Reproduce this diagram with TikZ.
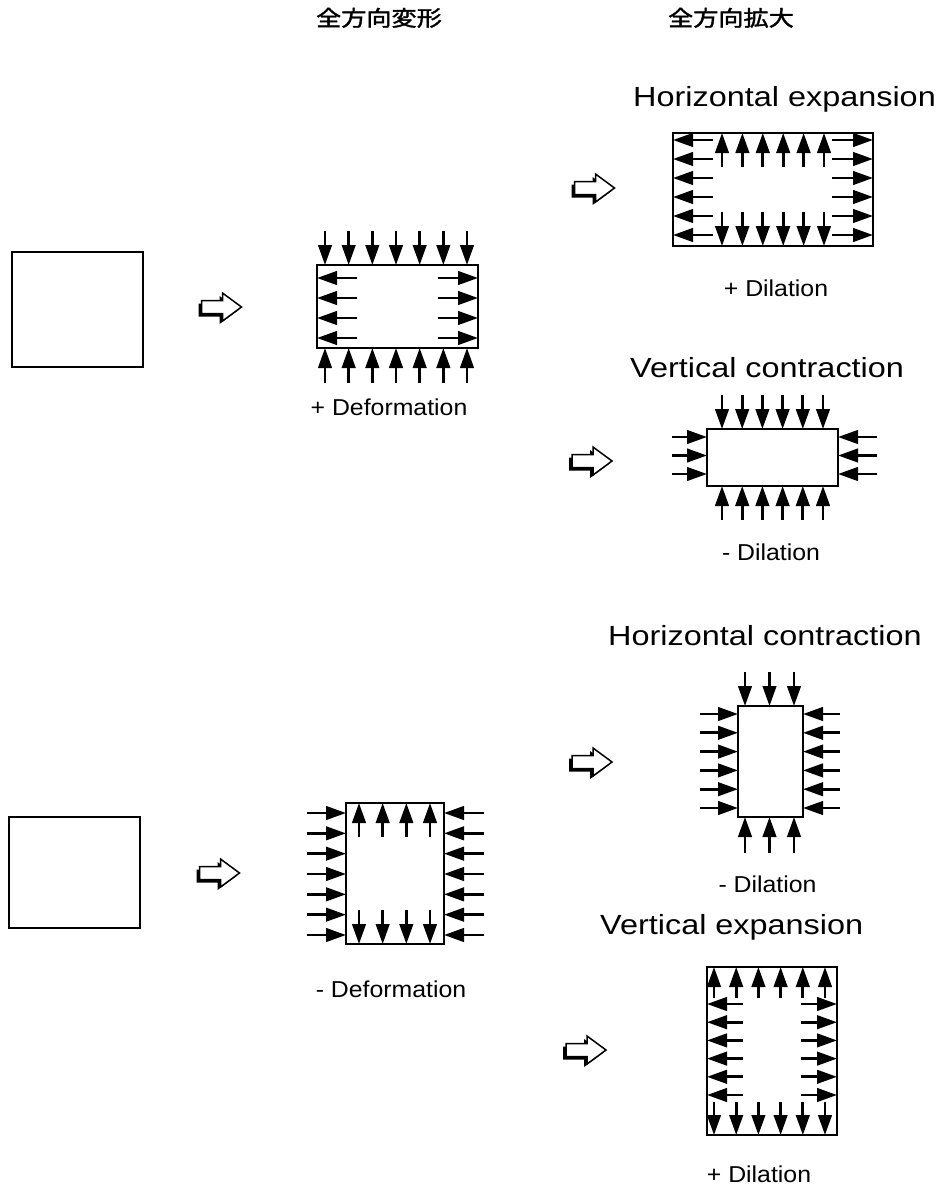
\documentclass[tikz,border=0pt]{standalone}
\usepackage{fontspec}
\usepackage{graphicx}
\setmainfont{Liberation Sans}
\newfontfamily\jpfont{Noto Sans CJK JP}[FakeBold=1.6]
\usetikzlibrary{arrows.meta}

\newcommand{\wide}[1]{\scalebox{1.17}[1]{#1}}
\newcommand{\lwide}[1]{\scalebox{1.08}[1]{#1}}

\tikzset{
  pics/shiftarrow/.style={code={
    % dark offset shadow, then the white outlined arrow on top
    \fill[black] (-3,-3.5) -- (18,-3.5) -- (18,-11) -- (37,3) -- (18,17) -- (18,9.5) -- (-3,9.5) -- cycle;
    \filldraw[fill=white, draw=black, line width=1.5pt]
      (0,-6.5) -- (21,-6.5) -- (21,-14) -- (40,0) -- (21,14) -- (21,6.5) -- (0,6.5) -- cycle;
  }}
}

\begin{document}
\begin{tikzpicture}[x=1pt,y=-1pt,
  box/.style={draw, line width=2.7pt, inner sep=0pt, outer sep=0pt},
  force/.style={line width=2.7pt, -{Triangle[length=20pt,width=13.5pt]}},
  title/.style={anchor=base west, inner sep=0pt, font=\fontsize{27.7}{30}\selectfont},
  lbl/.style={anchor=base, inner sep=0pt, font=\fontsize{23}{26}\selectfont},
  jp/.style={anchor=base, inner sep=0pt, font=\jpfont\fontsize{21.5}{24}\selectfont},
]
\useasboundingbox[fill=white] (0,0) rectangle (941,1189);

% column headings
\node[jp] (h1) at (379,26) {\wide{全方向変形}};
\node[jp] (h2) at (731,26) {\wide{全方向拡大}};

% ---------- upper row ----------
\node[box, minimum width=131pt, minimum height=115pt] (sq1) at (77.5,309.5) {};
\pic (ar1) at (201.5,307) {shiftarrow};

% + Deformation
\node[box, minimum width=161pt, minimum height=83pt] (pd) at (397.5,306.5) {};
\foreach \x in {325,348.67,372.33,396,419.67,443.33,467} {
  \draw[force] (\x,231) -- (\x,265);
  \draw[force] (\x,383) -- (\x,348);
}
\foreach \y in {278,298,318,338} {
  \draw[force] (357,\y) -- (317,\y);
  \draw[force] (438,\y) -- (478,\y);
}
\node[lbl] (pdl) at (389,415) {\lwide{+ Deformation}};

% Horizontal expansion
\node[title] (t1) at (633,106) {\wide{Horizontal expansion}};
\pic (ar2) at (574.5,188) {shiftarrow};
\node[box, minimum width=200pt, minimum height=113pt] (he) at (773,189.5) {};
\foreach \x in {722,742.4,762.8,783.2,803.6,824} {
  \draw[force] (\x,167) -- (\x,133);
  \draw[force] (\x,212) -- (\x,246);
}
\foreach \y in {140,159,178,197,216,235} {
  \draw[force] (713,\y) -- (673,\y);
  \draw[force] (832,\y) -- (873,\y);
}
\node[lbl] (hel) at (776,296) {\lwide{+ Dilation}};

% Vertical contraction
\node[title] (t2) at (630,377) {\wide{Vertical contraction}};
\pic (ar3) at (572,461) {shiftarrow};
\node[box, minimum width=131pt, minimum height=57pt] (vc) at (772.5,457.5) {};
\foreach \x in {722,742.2,762.4,782.6,802.8,823} {
  \draw[force] (\x,395) -- (\x,429);
  \draw[force] (\x,520) -- (\x,486);
}
\foreach \y in {437,455.5,474} {
  \draw[force] (672,\y) -- (707,\y);
  \draw[force] (877,\y) -- (838,\y);
}
\node[lbl] (vcl) at (771,560) {\lwide{- Dilation}};

% ---------- lower row ----------
\node[box, minimum width=131pt, minimum height=111pt] (sq2) at (74.5,872.5) {};
\pic (ar4) at (199.5,873) {shiftarrow};

% - Deformation
\node[box, minimum width=98pt, minimum height=141pt] (md) at (395,873.5) {};
\foreach \x in {359,382.67,406.33,430} {
  \draw[force] (\x,837) -- (\x,803);
  \draw[force] (\x,910) -- (\x,944);
}
\foreach \y in {813,833.33,853.67,874,894.33,914.67,935} {
  \draw[force] (307,\y) -- (346,\y);
  \draw[force] (484,\y) -- (444,\y);
}
\node[lbl] (mdl) at (391,997) {\lwide{- Deformation}};

% Horizontal contraction
\node[title] (t3) at (608,645) {\wide{Horizontal contraction}};
\pic (ar5) at (572,762) {shiftarrow};
\node[box, minimum width=65pt, minimum height=111pt] (hc) at (770.5,761.5) {};
\foreach \x in {745,769.5,794} {
  \draw[force] (\x,672) -- (\x,706);
  \draw[force] (\x,853) -- (\x,817);
}
\foreach \y in {714,732.8,751.6,770.4,789.2,808} {
  \draw[force] (700,\y) -- (738,\y);
  \draw[force] (840,\y) -- (803,\y);
}
\node[lbl] (hcl) at (767.5,892) {\lwide{- Dilation}};

% Vertical expansion
\node[title] (t4) at (600,934) {\wide{Vertical expansion}};
\pic (ar6) at (566,1050) {shiftarrow};
\node[box, minimum width=130pt, minimum height=168pt] (ve) at (772,1051) {};
\foreach \x in {714,736.2,758.4,780.6,802.8,825} {
  \draw[force] (\x,998) -- (\x,967);
  \draw[force] (\x,1102) -- (\x,1135);
}
\foreach \y in {1004,1022.2,1040.4,1058.6,1076.8,1095} {
  \draw[force] (743,\y) -- (707,\y);
  \draw[force] (801,\y) -- (837,\y);
}
\node[lbl] (vel) at (759,1182) {\lwide{+ Dilation}};

\end{tikzpicture}
\end{document}
